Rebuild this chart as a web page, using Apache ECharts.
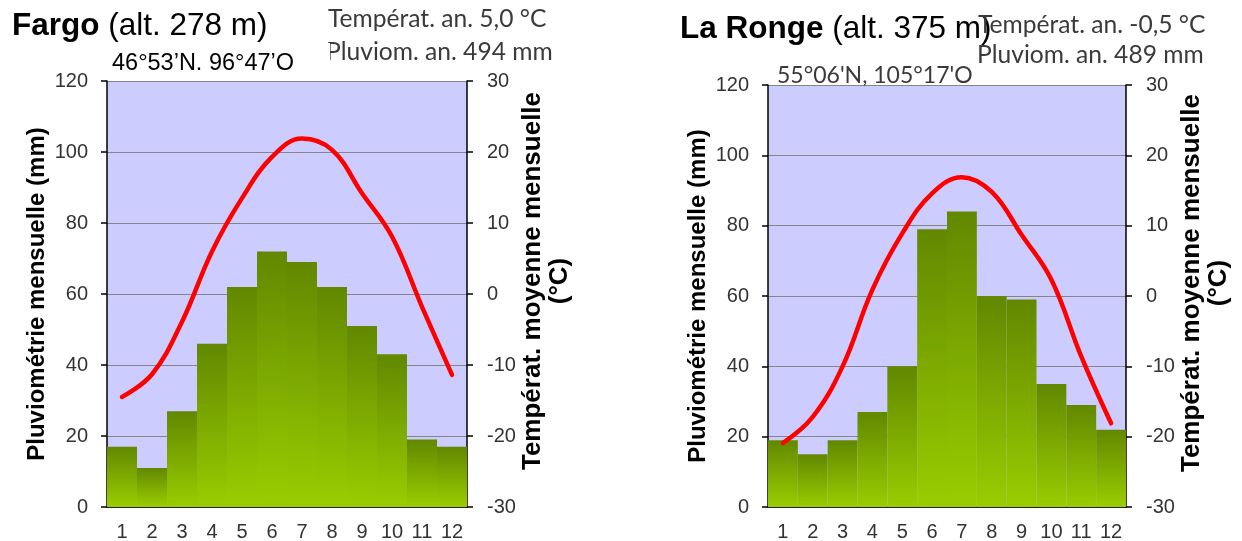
<!DOCTYPE html>
<html>
<head>
<meta charset="utf-8">
<script src="https://cdn.jsdelivr.net/npm/echarts@6/dist/echarts.min.js"></script>
<style>html,body{margin:0;padding:0;background:#fff;}#c{width:1242px;height:541px;}</style>
</head>
<body>
<div id="c"></div>
<script>
const months = ['1','2','3','4','5','6','7','8','9','10','11','12'];
const fargoPrecip = [17, 11, 27, 46, 62, 72, 69, 62, 51, 43, 19, 17];
const fargoTemp = [-14.5, -11.3, -3.9, 6.0, 13.5, 19.3, 21.9, 20.3, 14.2, 8.1, -1.8, -11.4];
const laRongePrecip = [19, 15, 19, 27, 40, 79, 84, 60, 59, 35, 29, 22];
const laRongeTemp = [-20.9, -17.2, -10.0, 0.9, 8.9, 14.6, 16.9, 14.8, 8.7, 2.3, -8.6, -18.1];
const precipTicks = {min: 0, max: 120, interval: 20};
const tempTicks = {min: -30, max: 30, interval: 10};

const chart = echarts.init(document.getElementById('c'), null, {renderer: 'canvas'});

const barGradient = {
  type: 'linear', x: 0, y: 0, x2: 0, y2: 1,
  colorStops: [{offset: 0, color: '#628800'}, {offset: 1, color: '#9acd00'}]
};
const labelStyle = {color: '#333', fontFamily: 'Liberation Sans, Arial', fontSize: 20};
const leftNameStyle = {color: '#000', fontFamily: 'Liberation Sans, Arial', fontSize: 24, fontWeight: 'bold'};
const rightNameStyle = {color: '#000', fontFamily: 'Liberation Sans, Arial', fontSize: 26, fontWeight: 'bold', lineHeight: 27, padding: [0, 0, 0, 26]};

function xAxis(gi) {
  return {
    type: 'category', gridIndex: gi, data: months,
    axisLine: {lineStyle: {color: '#000', width: 1.5}},
    axisTick: {length: 6, lineStyle: {color: '#000', width: 1.5}},
    axisLabel: Object.assign({margin: 15}, labelStyle)
  };
}
function leftAxis(gi) {
  return {
    type: 'value', gridIndex: gi, position: 'left',
    min: precipTicks.min, max: precipTicks.max, interval: precipTicks.interval,
    name: 'Pluviométrie mensuelle (mm)', nameLocation: 'middle', nameRotate: 90, nameGap: 58,
    nameTextStyle: leftNameStyle,
    axisLine: {show: true, lineStyle: {color: '#000', width: 1.5}},
    axisTick: {show: true, length: 6, lineStyle: {color: '#000', width: 1.5}},
    axisLabel: Object.assign({margin: 19}, labelStyle),
    splitLine: {show: true, lineStyle: {color: '#858585', width: 1}}
  };
}
function rightAxis(gi) {
  return {
    type: 'value', gridIndex: gi, position: 'right',
    min: tempTicks.min, max: tempTicks.max, interval: tempTicks.interval,
    name: 'Températ. moyenne mensuelle\n(°C)', nameLocation: 'middle', nameRotate: 90, nameGap: 44,
    nameTextStyle: rightNameStyle,
    axisLine: {show: true, lineStyle: {color: '#000', width: 1.5}},
    axisTick: {show: true, length: 6, lineStyle: {color: '#000', width: 1.5}},
    axisLabel: Object.assign({margin: 20}, labelStyle),
    splitLine: {show: false}
  };
}

const headerFont = 'Lato, sans-serif';
const titleFont = '31.5px "Liberation Sans", Arial';
const option = {
  animation: false,
  backgroundColor: '#fff',
  grid: [
    {left: 107, top: 81, width: 360, height: 426, show: true, backgroundColor: '#ccccff', borderWidth: 0, outerBoundsMode: 'none', containLabel: false},
    {left: 768, top: 85, width: 358, height: 422, show: true, backgroundColor: '#ccccff', borderWidth: 0, outerBoundsMode: 'none', containLabel: false}
  ],
  xAxis: [xAxis(0), xAxis(1)],
  yAxis: [leftAxis(0), rightAxis(0), leftAxis(1), rightAxis(1)],
  series: [
    {type: 'bar', xAxisIndex: 0, yAxisIndex: 0, data: fargoPrecip, barCategoryGap: '0%', itemStyle: {color: barGradient}, z: 2},
    {type: 'line', xAxisIndex: 0, yAxisIndex: 1, data: fargoTemp, smooth: 0.4, showSymbol: false, symbol: 'none', lineStyle: {color: '#ff0000', width: 4.5, cap: 'round'}, z: 3},
    {type: 'bar', xAxisIndex: 1, yAxisIndex: 2, data: laRongePrecip, barCategoryGap: '0%', itemStyle: {color: barGradient}, z: 2},
    {type: 'line', xAxisIndex: 1, yAxisIndex: 3, data: laRongeTemp, smooth: 0.4, showSymbol: false, symbol: 'none', lineStyle: {color: '#ff0000', width: 4.5, cap: 'round'}, z: 3}
  ],
  graphic: [
    {type: 'text', x: 12, y: 26, z: 10, style: {text: '{b|Fargo} (alt. 278 m)', fill: '#000', font: titleFont, verticalAlign: 'middle',
      rich: {b: {fontWeight: 'bold', fontSize: 31.5, fontFamily: 'Liberation Sans, Arial', fill: '#000'}}}},
    {type: 'text', x: 328, y: 19, z: 10, style: {text: 'Températ. an. 5,0 °C', fill: '#3a3a3a', font: '24.6px ' + headerFont, verticalAlign: 'middle'}},
    {type: 'text', x: 326, y: 52, z: 10, style: {text: 'Pluviom. an. 494 mm', fill: '#3a3a3a', font: '24.6px ' + headerFont, verticalAlign: 'middle'}},
    {type: 'rect', z: 11, shape: {x: 100, y: 43, width: 230, height: 37}, style: {fill: '#fff'}},
    {type: 'text', x: 112, y: 64, z: 12, style: {text: '46°53’N. 96°47’O', fill: '#000', font: '23.5px "Liberation Sans", Arial', verticalAlign: 'middle'}},
    {type: 'text', x: 680, y: 29, z: 10, style: {text: '{b|La Ronge} (alt. 375 m)', fill: '#000', font: titleFont, verticalAlign: 'middle',
      rich: {b: {fontWeight: 'bold', fontSize: 31.5, fontFamily: 'Liberation Sans, Arial', fill: '#000'}}}},
    {type: 'text', x: 978, y: 25, z: 10, style: {text: 'Températ. an. -0,5 °C', fill: '#3a3a3a', font: '24.6px ' + headerFont, verticalAlign: 'middle'}},
    {type: 'text', x: 977, y: 55, z: 10, style: {text: 'Pluviom. an. 489 mm', fill: '#3a3a3a', font: '24.6px ' + headerFont, verticalAlign: 'middle'}},
    {type: 'text', x: 777, y: 76, z: 10, style: {text: "55°06'N, 105°17'O", fill: '#3a3a3a', font: '23px ' + headerFont, verticalAlign: 'middle'}}
  ]
};
chart.setOption(option);
</script>
</body>
</html>
